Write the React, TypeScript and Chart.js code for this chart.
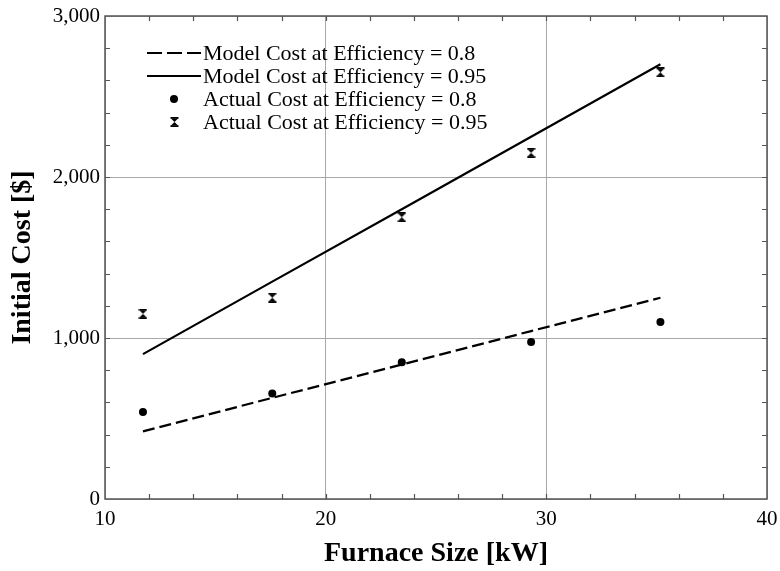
import React, { useEffect, useRef } from "react";
import { Chart, registerables } from "chart.js";

Chart.register(...registerables);

// Furnace sizes (kW) and costs ($)
const furnaceSizeKW = [11.72, 17.58, 23.45, 29.31, 35.17];
const modelCostEff080 = [420, 628, 835, 1043, 1250];
const modelCostEff095 = [900, 1350, 1800, 2250, 2700];
const actualCostEff080 = [540, 655, 850, 975, 1100];
const actualCostEff095 = [1150, 1250, 1750, 2150, 2650];

const seriesLabels = [
  "Model Cost at Efficiency = 0.8",
  "Model Cost at Efficiency = 0.95",
  "Actual Cost at Efficiency = 0.8",
  "Actual Cost at Efficiency = 0.95",
];

const xRange = { min: 10, max: 40, major: 10, minor: 2 };
const yRange = { min: 0, max: 3000, major: 1000, minor: 200 };

const SERIF = "'Liberation Serif', 'Times New Roman', serif";

function makeHourglass(): HTMLCanvasElement {
  const c = document.createElement("canvas");
  c.width = 9;
  c.height = 10;
  const g = c.getContext("2d")!;
  g.fillStyle = "#000";
  g.fillRect(0.5, 0, 8, 1.8);
  g.fillRect(0.5, 8.2, 8, 1.8);
  g.beginPath();
  g.moveTo(1, 1.5);
  g.lineTo(8, 1.5);
  g.lineTo(4.5, 5);
  g.closePath();
  g.fill();
  g.beginPath();
  g.moveTo(1, 8.5);
  g.lineTo(8, 8.5);
  g.lineTo(4.5, 5);
  g.closePath();
  g.fill();
  return c;
}

const toXY = (ys: number[]) => furnaceSizeKW.map((x, i) => ({ x, y: ys[i] }));

// Frame around the plot plus inward major/minor tick marks on all four sides
const framePlugin = {
  id: "frameTicks",
  afterDatasetsDraw(chart: any) {
    const { ctx, chartArea } = chart;
    const { left, right, top, bottom } = chartArea;
    const xs = chart.scales.x;
    const ys = chart.scales.y;
    const len = 5;
    ctx.save();
    ctx.strokeStyle = "#555";
    ctx.lineWidth = 1.2;
    ctx.beginPath();
    for (let v = xRange.min + xRange.minor; v < xRange.max; v += xRange.minor) {
      const px = Math.round(xs.getPixelForValue(v)) + 0.5;
      ctx.moveTo(px, bottom);
      ctx.lineTo(px, bottom - len);
      ctx.moveTo(px, top);
      ctx.lineTo(px, top + len);
    }
    for (let v = yRange.min + yRange.minor; v < yRange.max; v += yRange.minor) {
      const py = Math.round(ys.getPixelForValue(v)) + 0.5;
      ctx.moveTo(left, py);
      ctx.lineTo(left + len, py);
      ctx.moveTo(right, py);
      ctx.lineTo(right - len, py);
    }
    ctx.stroke();
    ctx.lineWidth = 1.5;
    ctx.strokeRect(left, top, right - left, bottom - top);
    ctx.restore();
  },
};

// Legend drawn inside the plot's upper-left corner
const insideLegendPlugin = {
  id: "insideLegend",
  afterDraw(chart: any) {
    const { ctx } = chart;
    const rowsY = [53, 76, 99, 122];
    const x0 = 147;
    const x1 = 201;
    const textX = 203;
    ctx.save();
    ctx.font = `22px ${SERIF}`;
    ctx.fillStyle = "#000";
    ctx.textBaseline = "middle";
    ctx.textAlign = "left";
    chart.data.datasets.forEach((ds: any, i: number) => {
      const y = rowsY[i];
      if (ds.showLine !== false) {
        ctx.save();
        ctx.strokeStyle = "#000";
        ctx.lineWidth = 2.2;
        ctx.setLineDash(ds.borderDash && ds.borderDash.length ? [15, 5] : []);
        ctx.beginPath();
        ctx.moveTo(x0, y);
        ctx.lineTo(x1, y);
        ctx.stroke();
        ctx.restore();
      } else if (ds.pointStyle === "circle") {
        ctx.beginPath();
        ctx.arc((x0 + x1) / 2, y, ds.pointRadius, 0, Math.PI * 2);
        ctx.fill();
      } else {
        const img = ds.pointStyle as HTMLCanvasElement;
        ctx.drawImage(img, Math.round((x0 + x1) / 2 - img.width / 2), Math.round(y - img.height / 2));
      }
      ctx.fillText(ds.label, textX, y + 1);
    });
    ctx.restore();
  },
};

export default function App() {
  const canvasRef = useRef<HTMLCanvasElement | null>(null);

  useEffect(() => {
    document.body.style.margin = "0";
    const canvas = canvasRef.current;
    if (!canvas) return;
    const hourglass = makeHourglass();

    const chart = new Chart(canvas, {
      type: "scatter",
      data: {
        datasets: [
          {
            label: seriesLabels[0],
            data: toXY(modelCostEff080),
            showLine: true,
            borderColor: "#000",
            borderWidth: 2.2,
            borderDash: [12, 5],
            pointRadius: 0,
            pointHoverRadius: 0,
          },
          {
            label: seriesLabels[1],
            data: toXY(modelCostEff095),
            showLine: true,
            borderColor: "#000",
            borderWidth: 2.2,
            pointRadius: 0,
            pointHoverRadius: 0,
          },
          {
            label: seriesLabels[2],
            data: toXY(actualCostEff080),
            showLine: false,
            pointStyle: "circle",
            pointRadius: 4,
            backgroundColor: "#000",
            borderColor: "#000",
            borderWidth: 0,
          },
          {
            label: seriesLabels[3],
            data: toXY(actualCostEff095),
            showLine: false,
            pointStyle: hourglass as any,
            pointRadius: 5,
            backgroundColor: "#000",
            borderColor: "#000",
          },
        ] as any,
      },
      options: {
        responsive: false,
        animation: false,
        events: [],
        layout: { padding: { top: 16, right: 13, left: 0, bottom: 0 } },
        plugins: {
          legend: { display: false },
          tooltip: { enabled: false },
        },
        scales: {
          x: {
            type: "linear",
            min: xRange.min,
            max: xRange.max,
            afterFit: (scale: any) => {
              scale.height = 72;
              scale.paddingLeft = 0;
              scale.paddingRight = 0;
            },
            ticks: {
              stepSize: xRange.minor,
              autoSkip: false,
              maxRotation: 0,
              padding: 8,
              color: "#000",
              font: { family: SERIF, size: 21 },
              callback: (v: any) => (Number(v) % xRange.major === 0 ? String(v) : ""),
            },
            grid: {
              drawTicks: false,
              lineWidth: 1,
              color: (c: any) =>
                c.tick && c.tick.value % xRange.major === 0 ? "#a8a8a8" : "rgba(0,0,0,0)",
            },
            border: { display: false },
            title: {
              display: true,
              text: "Furnace Size [kW]",
              color: "#000",
              font: { family: SERIF, size: 28, weight: "bold" },
              padding: { top: 0, bottom: 0 },
            },
          },
          y: {
            type: "linear",
            min: yRange.min,
            max: yRange.max,
            afterFit: (scale: any) => {
              scale.width = 105;
              scale.paddingTop = 0;
              scale.paddingBottom = 0;
            },
            ticks: {
              stepSize: yRange.minor,
              autoSkip: false,
              padding: 5,
              color: "#000",
              font: { family: SERIF, size: 21 },
              callback: (v: any) =>
                Number(v) % yRange.major === 0 ? Number(v).toLocaleString("en-US") : "",
            },
            grid: {
              drawTicks: false,
              lineWidth: 1,
              color: (c: any) =>
                c.tick && c.tick.value % yRange.major === 0 ? "#a8a8a8" : "rgba(0,0,0,0)",
            },
            border: { display: false },
            title: {
              display: true,
              text: "Initial Cost [$]",
              color: "#000",
              font: { family: SERIF, size: 28, weight: "bold" },
              padding: { top: 6, bottom: 0 },
            },
          },
        },
      } as any,
      plugins: [framePlugin, insideLegendPlugin],
    });

    return () => chart.destroy();
  }, []);

  return (
    <div style={{ width: 780, height: 571, background: "#fff" }}>
      <canvas ref={canvasRef} width={780} height={571} style={{ display: "block" }} />
    </div>
  );
}
